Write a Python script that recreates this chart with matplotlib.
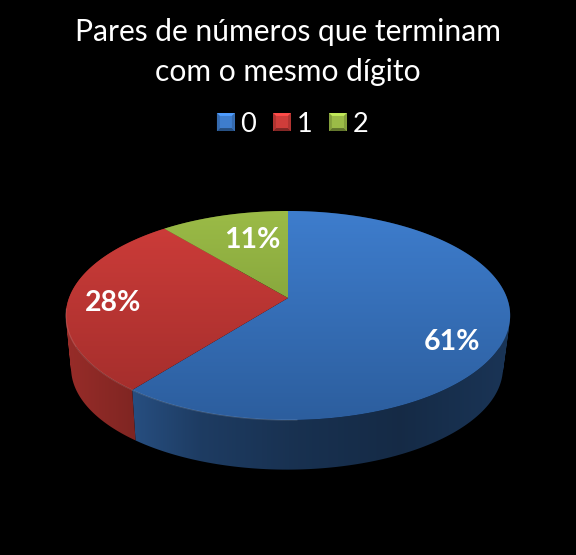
import numpy as np
import matplotlib
matplotlib.use("Agg")
import matplotlib.pyplot as plt
from matplotlib.colors import LinearSegmentedColormap
from matplotlib.legend_handler import HandlerBase
from matplotlib.patches import Patch, PathPatch, Polygon, Rectangle
from matplotlib.path import Path

# ---- data ----
title_text = "Pares de números que terminam\ncom o mesmo dígito"
categories = ["0", "1", "2"]
values = [60.6, 28.4, 11.0]

# ---- style / layout ----
FONT = "Lato"
top_colors = ["#3e7dcd", "#cf3d3a", "#9bbb47"]
bottom_colors = ["#2c5e9e", "#9f2c2a", "#6f8e30"]
base_rgb = [(62, 125, 205), (205, 60, 55), (155, 187, 70)]
label_xy = [(452, 342), (113, 303), (252, 240)]
CX, APEX_Y, A, B, K = 288, 298, 219, 101.6, 0.1675
BASE_CX, BASE_SCALE, BASE_Y = 287, 0.972, 351
TOP_Y, BOT_Y = 211, 420
WALL_X = [66, 135, 200, 300, 400, 510]
WALL_F = [.74, .62, .48, .39, .34, .42]


def project(angle, scale=1.0, y0=APEX_Y, x0=CX):
    u, v = np.sin(angle), np.cos(angle)
    w = 1 + K * v
    return x0 + scale * A * u / w, y0 - scale * B * v / w


fig = plt.figure(figsize=(5.76, 5.55), dpi=100, facecolor="black")
ax = fig.add_axes([0, 0, 1, 1], facecolor="black")
ax.axis("off")

fractions = np.array(values) / np.sum(values)
edges = np.concatenate([[0], np.cumsum(fractions)]) * 2 * np.pi

# side wall: union of outward quads, clipped gradient running left to right
grid_x = np.linspace(60, 516, 456)
for i in range(len(values)):
    t = np.linspace(edges[i], edges[i + 1], max(3, int(fractions[i] * 720)))
    xa, ya = project(t)
    xb, yb = project(t, BASE_SCALE, BASE_Y, BASE_CX)
    verts, codes = [], []
    for j in range(len(t) - 1):
        q = np.array([(xa[j], ya[j]), (xa[j + 1], ya[j + 1]),
                      (xb[j + 1], yb[j + 1]), (xb[j], yb[j])])
        x, y = q[:, 0], q[:, 1]
        if np.dot(x, np.roll(y, 1)) - np.dot(y, np.roll(x, 1)) < 0:
            q = q[::-1]
        verts += list(q) + [q[0]]
        codes += [Path.MOVETO, Path.LINETO, Path.LINETO, Path.LINETO, Path.CLOSEPOLY]
    clip = PathPatch(Path(verts, codes), facecolor="none", edgecolor="none",
                     transform=ax.transData)
    ax.add_patch(clip)
    shade = np.interp(grid_x, WALL_X, WALL_F)
    rgb = np.outer(shade, np.array(base_rgb[i]) / 255)[None, :, :]
    im = ax.imshow(rgb, aspect="auto", extent=(60, 516, 480, 200), zorder=2,
                   interpolation="bilinear")
    im.set_clip_path(clip)

# top faces with vertical gradient
for i in range(len(values)):
    t = np.linspace(edges[i], edges[i + 1], 300)
    xa, ya = project(t)
    pts = np.vstack([[CX, APEX_Y], np.column_stack([xa, ya])])
    poly = Polygon(pts, closed=True, facecolor="none", edgecolor="none",
                   transform=ax.transData)
    ax.add_patch(poly)
    cmap = LinearSegmentedColormap.from_list("g", [top_colors[i], bottom_colors[i]])
    im = ax.imshow(np.linspace(0, 1, 256).reshape(-1, 1), cmap=cmap, aspect="auto",
                   extent=(60, 516, BOT_Y, TOP_Y), zorder=3, interpolation="bilinear")
    im.set_clip_path(poly)
    # faint light rim along the front-left edge
    front = (np.cos(t) < -0.1) & (xa < 300)
    if front.any():
        ax.plot(xa[front], ya[front], color="white", alpha=0.14, lw=0.9,
                zorder=4, solid_capstyle="round")
ax.set_xlim(0, 576)
ax.set_ylim(555, 0)

# value labels
for v, (lx, ly) in zip(values, label_xy):
    ax.text(lx, ly, f"{v:.0f}%", color="white", fontsize=20.5, fontweight="bold",
            family=FONT, ha="center", va="center", zorder=6)

# title
ax.text(288, 52, title_text, color="white", fontsize=21.6, family=FONT,
        ha="center", va="center", linespacing=1.5, zorder=6)


# legend with bevelled keys
class BevelHandler(HandlerBase):
    def create_artists(self, legend, orig, xd, yd, width, height, fontsize, trans):
        rgb = np.array(matplotlib.colors.to_rgb(orig.get_facecolor()))
        x0, y0 = -xd, -yd + (height - width) / 2
        b = width * 0.16
        s = width
        lt = np.minimum(1, rgb * 1.25)
        dk = rgb * 0.62
        return [Rectangle((x0, y0), s, s, facecolor=rgb, edgecolor="none", transform=trans),
                Polygon([(x0, y0 + s), (x0 + s, y0 + s), (x0 + s - b, y0 + s - b), (x0 + b, y0 + s - b)],
                        facecolor=lt, edgecolor="none", transform=trans),
                Polygon([(x0, y0), (x0 + s, y0), (x0 + s - b, y0 + b), (x0 + b, y0 + b)],
                        facecolor=dk, edgecolor="none", transform=trans),
                Polygon([(x0, y0), (x0 + b, y0 + b), (x0 + b, y0 + s - b), (x0, y0 + s)],
                        facecolor=rgb * 0.85, edgecolor="none", transform=trans),
                Polygon([(x0 + s, y0), (x0 + s - b, y0 + b), (x0 + s - b, y0 + s - b), (x0 + s, y0 + s)],
                        facecolor=rgb * 0.85, edgecolor="none", transform=trans)]


handles = [Patch(facecolor=c, label=n) for c, n in zip(top_colors, categories)]
leg = ax.legend(handles=handles, ncol=3, loc="center", bbox_to_anchor=(292.5, 124),
                bbox_transform=ax.transData, frameon=False,
                handler_map={Patch: BevelHandler()},
                prop={"family": FONT, "size": 19.5}, labelcolor="white",
                handlelength=0.66, handleheight=0.66, handletextpad=0.2,
                columnspacing=0.63, borderpad=0, borderaxespad=0)
leg.set_zorder(6)

fig.savefig("out.png", dpi=100, facecolor="black")
